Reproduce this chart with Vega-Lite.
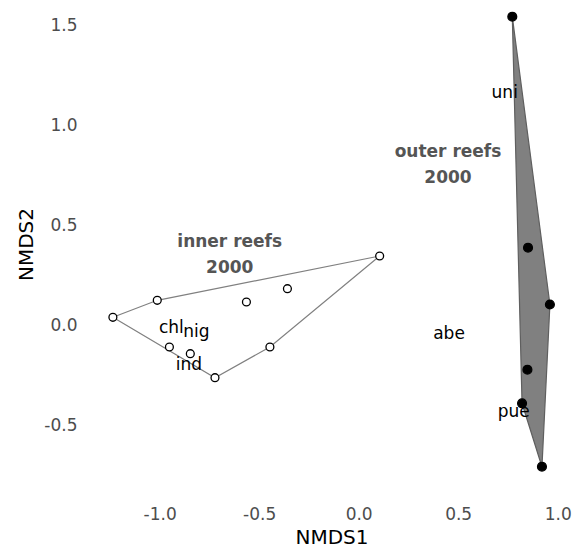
{
  "$schema": "https://vega.github.io/schema/vega-lite/v6.json",
  "width": 481,
  "height": 489,
  "autosize": {"type": "none"},
  "padding": {"left": 91, "top": 0, "right": 2, "bottom": 60},
  "background": "white",
  "config": {
    "view": {"stroke": null},
    "font": "DejaVu Sans",
    "axis": {
      "domain": false, "ticks": false, "grid": false,
      "labelFont": "DejaVu Sans", "labelFontSize": 17, "labelColor": "#4d4d4d",
      "titleFont": "DejaVu Sans", "titleFontSize": 20, "titleColor": "#000000", "titleFontWeight": "normal"
    }
  },
  "datasets": {
    "sites": [
      {"reef": "inner", "x": -1.235, "y": 0.0385},
      {"reef": "inner", "x": -1.012, "y": 0.1235},
      {"reef": "inner", "x": -0.951, "y": -0.110},
      {"reef": "inner", "x": -0.846, "y": -0.1435},
      {"reef": "inner", "x": -0.722, "y": -0.2635},
      {"reef": "inner", "x": -0.564, "y": 0.115},
      {"reef": "inner", "x": -0.446, "y": -0.110},
      {"reef": "inner", "x": -0.358, "y": 0.1815},
      {"reef": "inner", "x": 0.1055, "y": 0.345},
      {"reef": "outer", "x": 0.772, "y": 1.5415},
      {"reef": "outer", "x": 0.851, "y": 0.3865},
      {"reef": "outer", "x": 0.961, "y": 0.1025},
      {"reef": "outer", "x": 0.848, "y": -0.2235},
      {"reef": "outer", "x": 0.821, "y": -0.3915},
      {"reef": "outer", "x": 0.921, "y": -0.7085}
    ],
    "innerHull": [
      {"ord": 1, "x": -1.235, "y": 0.0385},
      {"ord": 2, "x": -1.012, "y": 0.1235},
      {"ord": 3, "x": 0.1055, "y": 0.345},
      {"ord": 4, "x": -0.446, "y": -0.110},
      {"ord": 5, "x": -0.722, "y": -0.2635},
      {"ord": 6, "x": -1.235, "y": 0.0385}
    ],
    "outerHull": [
      {"ord": 1, "x": 0.772, "y": 1.5415},
      {"ord": 2, "x": 0.961, "y": 0.1025},
      {"ord": 3, "x": 0.921, "y": -0.7085},
      {"ord": 4, "x": 0.821, "y": -0.3915},
      {"ord": 5, "x": 0.772, "y": 1.5415}
    ],
    "species": [
      {"label": "uni", "x": 0.734, "y": 1.135},
      {"label": "abe", "x": 0.454, "y": -0.07},
      {"label": "pue", "x": 0.779, "y": -0.4585},
      {"label": "chl", "x": -0.941, "y": -0.0415},
      {"label": "nig", "x": -0.816, "y": -0.0585},
      {"label": "ind", "x": -0.853, "y": -0.225}
    ],
    "groups": [
      {"label": ["inner reefs", "2000"], "x": -0.648, "y": 0.3915},
      {"label": ["outer reefs", "2000"], "x": 0.449, "y": 0.8415}
    ]
  },
  "layer": [
    {
      "data": {"name": "outerHull"},
      "mark": {"type": "line", "fill": "#808080", "stroke": "#5f5f5f", "strokeWidth": 1.2},
      "encoding": {
        "x": {"field": "x", "type": "quantitative", "scale": {"domain": [-1.345, 1.072], "nice": false, "zero": false},
              "axis": {"title": "NMDS1", "values": [-1, -0.5, 0, 0.5, 1], "format": ".1f", "labelExpr": "replace(datum.label, '\u2212', '-')", "labelPadding": 17, "titleBaseline": "alphabetic", "titleY": 54}},
        "y": {"field": "y", "type": "quantitative", "scale": {"domain": [-0.82, 1.625], "nice": false, "zero": false},
              "axis": {"title": "NMDS2", "values": [-0.5, 0, 0.5, 1, 1.5], "format": ".1f", "labelExpr": "replace(datum.label, '\u2212', '-')", "labelPadding": 14, "titleBaseline": "alphabetic", "titleX": -59, "titleY": 244}},
        "order": {"field": "ord", "type": "quantitative"}
      }
    },
    {
      "data": {"name": "innerHull"},
      "mark": {"type": "line", "stroke": "#808080", "strokeWidth": 1.2},
      "encoding": {
        "x": {"field": "x", "type": "quantitative"},
        "y": {"field": "y", "type": "quantitative"},
        "order": {"field": "ord", "type": "quantitative"}
      }
    },
    {
      "data": {"name": "sites"},
      "mark": {"type": "point", "shape": "circle", "opacity": 1, "strokeWidth": 1.3},
      "encoding": {
        "x": {"field": "x", "type": "quantitative"},
        "y": {"field": "y", "type": "quantitative"},
        "fill": {"field": "reef", "type": "nominal", "scale": {"domain": ["inner", "outer"], "range": ["#ffffff", "#000000"]}, "legend": null},
        "stroke": {"value": "#000000"},
        "size": {"field": "reef", "type": "nominal", "scale": {"domain": ["inner", "outer"], "range": [62, 78]}, "legend": null}
      }
    },
    {
      "data": {"name": "species"},
      "mark": {"type": "text", "fontSize": 17, "baseline": "alphabetic", "align": "center", "color": "#000000"},
      "encoding": {
        "x": {"field": "x", "type": "quantitative"},
        "y": {"field": "y", "type": "quantitative"},
        "text": {"field": "label"}
      }
    },
    {
      "data": {"name": "groups"},
      "mark": {"type": "text", "fontSize": 17, "fontWeight": "bold", "baseline": "alphabetic", "align": "center", "color": "#555555", "lineHeight": 26.6},
      "encoding": {
        "x": {"field": "x", "type": "quantitative"},
        "y": {"field": "y", "type": "quantitative"},
        "text": {"field": "label"}
      }
    }
  ]
}
